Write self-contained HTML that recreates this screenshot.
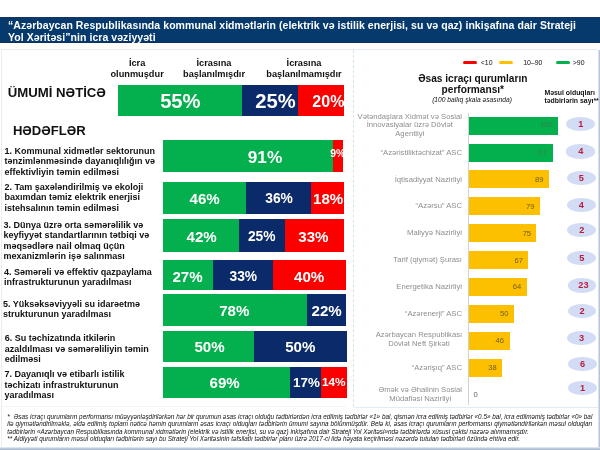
<!DOCTYPE html>
<html lang="az">
<head>
<meta charset="utf-8">
<title>Strateji Yol Xəritəsi</title>
<style>
html,body{margin:0;padding:0;}
body{width:600px;height:450px;position:relative;overflow:hidden;background:#fff;will-change:transform;font-family:"Liberation Sans",sans-serif;color:#111;}
.abs{position:absolute;}
.hdr{left:0;top:16.6px;width:600px;height:26.6px;background:#063a6d;box-shadow:inset 0 1px 0 #16345f,inset 0 -1px 0 #10305f;}
.hdr div{position:absolute;left:8px;color:#fff;font-weight:bold;font-size:10.5px;white-space:nowrap;line-height:12px;letter-spacing:0.063px;}
.panel{border:1px dotted #d6e3f0;box-sizing:border-box;}
.colh{font-weight:bold;font-size:9.23px;line-height:10.3px;text-align:center;white-space:nowrap;color:#111;transform:translateX(-50%);}
.bar{display:flex;overflow:hidden;}
.bar div{height:100%;color:#fff;font-weight:bold;text-align:center;white-space:nowrap;}
.g{background:#04af4d;}
.n{background:#0b2a69;}
.r{background:#fc0000;}
.y{background:#fdc000;}
.lbl{left:5px;font-weight:bold;font-size:9px;line-height:10.7px;white-space:nowrap;color:#111;}
.org{color:#8e8e8e;font-size:7.68px;line-height:9.2px;white-space:nowrap;}
.orgr{right:138px;text-align:right;}
.val{font-size:7.6px;line-height:8px;color:#5a5a3a;white-space:nowrap;text-align:right;}
.el{width:28.7px;height:14.2px;border-radius:50%;background:#d2dcf5;color:#b81d42;font-weight:bold;font-size:9.2px;line-height:15.2px;text-align:center;}
.fn{left:7.3px;font-style:italic;font-size:6.35px;line-height:7.4px;color:#111;white-space:nowrap;}
</style>
</head>
<body>

<!-- header -->
<div class="abs hdr">
  <div id="h1" style="top:2.2px;">“Azərbaycan Respublikasında kommunal xidmətlərin (elektrik və istilik enerjisi, su və qaz) inkişafına dair Strateji</div>
  <div id="h2" style="top:14.2px;">Yol Xəritəsi”nin icra vəziyyəti</div>
</div>

<!-- panels -->
<div class="abs" style="left:0;top:43.5px;width:600px;height:5px;background:#fffefb;"></div>
<div class="abs" style="left:1px;top:48.6px;width:597px;height:1px;background:#e7ebf5;"></div>
<div class="abs" style="left:0.5px;top:49px;width:1px;height:397px;background:#ececec;"></div>
<div class="abs" style="left:353px;top:50px;width:0;height:357px;border-left:1px dashed #d3e3ef;"></div>
<div class="abs" style="left:353.5px;top:407px;width:244px;height:1px;background:#e3ebf4;"></div>
<div class="abs" style="left:2px;top:405.5px;width:344px;height:1px;background:#f1f4f8;"></div>
<div class="abs" style="left:597.8px;top:50px;width:2.2px;height:400px;background:linear-gradient(to right,#e8eef7,#a9b7cc);"></div>
<div class="abs" style="left:0;top:446.6px;width:600px;height:3.4px;background:linear-gradient(to bottom,#edf2f9,#c6d3e7 40%,#aab8cd 75%,#b4c2d8);"></div>

<!-- column headers -->
<div class="abs colh" id="c1" style="left:137.1px;top:58.4px;">İcra<br>olunmuşdur</div>
<div class="abs colh" id="c2" style="left:214px;top:58.4px;">İcrasına<br>başlanılmışdır</div>
<div class="abs colh" id="c3" style="left:304px;top:58.4px;">İcrasına<br>başlanılmamışdır</div>

<!-- total -->
<div class="abs" id="tot" style="left:7.7px;top:85.3px;font-weight:bold;font-size:13.2px;line-height:16px;white-space:nowrap;">ÜMUMİ NƏTİCƏ</div>
<div class="abs bar" style="left:118.3px;top:85.2px;height:31px;line-height:32px;">
  <div class="g" style="width:123.7px;font-size:20.2px;"><span style="position:relative;left:0.2px;">55%</span></div>
  <div class="n" style="width:56px;font-size:20.2px;"><span style="position:relative;left:5.5px;">25%</span></div>
  <div class="r" style="width:46px;font-size:16px;"><span style="position:relative;left:7.4px;top:1.2px;">20%</span></div>
</div>

<div class="abs" id="hed" style="left:12.9px;top:123.4px;font-weight:bold;font-size:13.1px;line-height:16px;white-space:nowrap;">HƏDƏFLƏR</div>

<!-- rows -->
<div class="abs lbl" id="l1" style="left:4.4px;top:145.7px;line-height:10.7px;">1. Kommunal xidmətlər sektorunun<br>tənzimlənməsində dayanıqlılığın və<br>effektivliyin təmin edilməsi</div>
<div class="abs bar" style="left:163.3px;top:140.2px;height:31.5px;line-height:35px;">
  <div class="g" style="width:169.7px;font-size:17.2px;"><span style="position:relative;left:16.85px;">91%</span></div>
  <div class="r" style="width:10px;font-size:8.8px;"><span style="position:relative;left:0px;"></span></div>
</div>
<div class="abs" style="left:330.2px;top:147.8px;width:12.8px;overflow:hidden;color:#fff;font-weight:bold;font-size:10.4px;line-height:12px;white-space:nowrap;">9%</div>

<div class="abs lbl" id="l2" style="left:4.4px;top:181.6px;line-height:10.7px;">2. Tam şaxələndirilmiş və ekoloji<br>baxımdan təmiz elektrik enerjisi<br>istehsalının təmin edilməsi</div>
<div class="abs bar" style="left:163.3px;top:181.7px;height:32.3px;line-height:34.9px;">
  <div class="g" style="width:82.7px;font-size:15.1px;"><span style="position:relative;left:0px;">46%</span></div>
  <div class="n" style="width:65px;font-size:13.8px;"><span style="position:relative;left:0.6px;">36%</span></div>
  <div class="r" style="width:32.7px;font-size:15.1px;"><span style="position:relative;left:0.85px;">18%</span></div>
</div>

<div class="abs lbl" id="l3" style="left:3.6px;top:219.5px;line-height:10.55px;">3. Dünya üzrə orta səmərəlilik və<br>keyfiyyət standartlarının tətbiqi və<br>məqsədlərə nail olmaq üçün<br>mexanizmlərin işə salınması</div>
<div class="abs bar" style="left:163.3px;top:219.3px;height:33px;line-height:36px;">
  <div class="g" style="width:76px;font-size:15.1px;"><span style="position:relative;left:0.3px;">42%</span></div>
  <div class="n" style="width:45.7px;font-size:13.8px;"><span style="position:relative;left:-0.4px;">25%</span></div>
  <div class="r" style="width:59px;font-size:15.1px;"><span style="position:relative;left:-1.1px;">33%</span></div>
</div>

<div class="abs lbl" id="l4" style="left:4.1px;top:266.6px;line-height:10.7px;">4. Səmərəli və effektiv qazpaylama<br>infrastrukturunun yaradılması</div>
<div class="abs bar" style="left:163.3px;top:260px;height:30px;line-height:33.4px;">
  <div class="g" style="width:49.4px;font-size:15.1px;"><span style="position:relative;left:-0.5px;">27%</span></div>
  <div class="n" style="width:60px;font-size:13.8px;"><span style="position:relative;left:0.6px;">33%</span></div>
  <div class="r" style="width:73px;font-size:15.1px;"><span style="position:relative;left:0px;">40%</span></div>
</div>

<div class="abs lbl" id="l5" style="left:3px;top:298.5px;line-height:10.7px;">5. Yüksəksəviyyəli su idarəetmə<br>strukturunun yaradılması</div>
<div class="abs bar" style="left:163.3px;top:294.3px;height:31.4px;line-height:33.4px;">
  <div class="g" style="width:143.4px;font-size:15.1px;"><span style="position:relative;left:-0.7px;">78%</span></div>
  <div class="n" style="width:39.7px;font-size:15.1px;"><span style="position:relative;left:0.1px;">22%</span></div>
</div>

<div class="abs lbl" id="l6" style="left:4.8px;top:332.8px;line-height:10.7px;">6. Su təchizatında itkilərin<br>azaldılması və səmərəliliyin təmin<br>edilməsi</div>
<div class="abs bar" style="left:163.3px;top:330.7px;height:31.6px;line-height:32px;">
  <div class="g" style="width:91px;font-size:15.1px;"><span style="position:relative;left:0.7px;">50%</span></div>
  <div class="n" style="width:92.4px;font-size:15.1px;"><span style="position:relative;left:-0.25px;">50%</span></div>
</div>

<div class="abs lbl" id="l7" style="left:4.4px;top:369.2px;line-height:10.6px;">7. Dayanıqlı və etibarlı istilik<br>təchizatı infrastrukturunun<br>yaradılması</div>
<div class="abs bar" style="left:163.3px;top:366.7px;height:31.6px;line-height:31.6px;">
  <div class="g" style="width:126.7px;font-size:15.1px;"><span style="position:relative;left:-2px;">69%</span></div>
  <div class="n" style="width:30.7px;font-size:13.4px;"><span style="position:relative;left:1.1px;">17%</span></div>
  <div class="r" style="width:26.3px;font-size:11.8px;"><span style="position:relative;left:-0.1px;">14%</span></div>
</div>

<!-- right panel -->
<div class="abs" style="left:462.7px;top:61.1px;width:14px;height:2.8px;background:#fc0000;border-radius:1.5px;"></div>
<div class="abs" style="left:499.3px;top:61.1px;width:14px;height:2.8px;background:#fdc000;border-radius:1.5px;"></div>
<div class="abs" style="left:556px;top:61.1px;width:14px;height:2.8px;background:#04af4d;border-radius:1.5px;"></div>
<div class="abs" id="lg1" style="left:480.8px;top:59.2px;font-size:6.9px;line-height:8px;white-space:nowrap;">&lt;10</div>
<div class="abs" id="lg2" style="left:523.2px;top:59.2px;font-size:6.9px;line-height:8px;white-space:nowrap;">10–90</div>
<div class="abs" id="lg3" style="left:572.8px;top:59.2px;font-size:6.9px;line-height:8px;white-space:nowrap;">&gt;90</div>

<div class="abs" id="rt" style="left:472.8px;top:72.7px;transform:translateX(-50%);font-weight:bold;font-size:10.15px;line-height:11.3px;text-align:center;white-space:nowrap;">Əsas icraçı qurumların<br>performansı*</div>
<div class="abs" id="rs" style="left:472px;top:95.8px;transform:translateX(-50%);font-style:italic;font-size:6.68px;line-height:8px;white-space:nowrap;">(100 ballıq şkala əsasında)</div>
<div class="abs" id="rm" style="left:544.4px;top:89.3px;font-weight:bold;font-size:6.9px;line-height:7.9px;white-space:nowrap;">Məsul olduqları<br>tədbirlərin sayı**</div>

<!-- axis -->
<div class="abs" style="left:468px;top:113px;width:1px;height:292px;background:#d2d2d2;"></div>

<!-- org bars -->
<div class="abs g" style="left:468.9px;top:116.7px;width:89.3px;height:18.2px;"></div>
<div class="abs g" style="left:468.9px;top:143.5px;width:84px;height:18.2px;"></div>
<div class="abs y" style="left:468.9px;top:170.2px;width:79.8px;height:18.2px;"></div>
<div class="abs y" style="left:468.9px;top:197.2px;width:71.1px;height:18.1px;"></div>
<div class="abs y" style="left:468.9px;top:224.3px;width:67.5px;height:18.2px;"></div>
<div class="abs y" style="left:468.9px;top:251.2px;width:59.5px;height:18px;"></div>
<div class="abs y" style="left:468.9px;top:278.2px;width:58px;height:17.7px;"></div>
<div class="abs y" style="left:468.9px;top:304.5px;width:44.8px;height:18px;"></div>
<div class="abs y" style="left:468.9px;top:331.5px;width:41.3px;height:18px;"></div>
<div class="abs y" style="left:468.9px;top:358.8px;width:33.1px;height:18px;"></div>

<!-- values -->
<div class="abs val" style="left:522.8px;width:30px;top:121.4px;color:#37824f;">100</div>
<div class="abs val" style="left:516.4px;width:30px;top:148.5px;color:#37824f;">97</div>
<div class="abs val" style="left:513.4px;width:30px;top:175.8px;color:#6e5c1c;">89</div>
<div class="abs val" style="left:504.5px;width:30px;top:202.6px;color:#6e5c1c;">79</div>
<div class="abs val" style="left:501.1px;width:30px;top:229.5px;color:#6e5c1c;">75</div>
<div class="abs val" style="left:493px;width:30px;top:256.9px;color:#6e5c1c;">67</div>
<div class="abs val" style="left:491.3px;width:30px;top:283.3px;color:#6e5c1c;">64</div>
<div class="abs val" style="left:478.4px;width:30px;top:310px;color:#6e5c1c;">50</div>
<div class="abs val" style="left:474px;width:30px;top:336.7px;color:#6e5c1c;">46</div>
<div class="abs val" style="left:466.7px;width:30px;top:363.9px;color:#6e5c1c;">38</div>
<div class="abs val" style="left:473.5px;top:390.7px;text-align:left;color:#5a5a5a;">0</div>

<!-- org labels -->
<div class="abs org" id="o1" style="right:138px;top:112.6px;line-height:8.7px;text-align:center;">Vətəndaşlara Xidmət və Sosial<br>İnnovasiyalar üzrə Dövlət<br>Agentliyi</div>
<div class="abs org" id="o2" style="right:138px;top:147.5px;text-align:center;">“Azəristiliktəchizat” ASC</div>
<div class="abs org" id="o3" style="right:138px;top:174.6px;text-align:center;">İqtisadiyyat Nazirliyi</div>
<div class="abs org" id="o4" style="right:138px;top:201.4px;text-align:center;">“Azərsu” ASC</div>
<div class="abs org" id="o5" style="right:138px;top:228.4px;text-align:center;">Maliyyə Nazirliyi</div>
<div class="abs org" id="o6" style="right:138px;top:255.3px;text-align:center;">Tarif (qiymət) Şurası</div>
<div class="abs org" id="o7" style="right:138px;top:282.2px;text-align:center;">Energetika Nazirliyi</div>
<div class="abs org" id="o8" style="right:138px;top:308.7px;text-align:center;">“Azərenerji” ASC</div>
<div class="abs org" id="o9" style="right:137.8px;top:331.2px;line-height:8.9px;text-align:center;">Azərbaycan Respublikası<br>Dövlət Neft Şirkəti</div>
<div class="abs org" id="o10" style="right:138px;top:362.6px;text-align:center;">“Azərişıq” ASC</div>
<div class="abs org" id="o11" style="right:138px;top:385.2px;text-align:center;">Əmək və Əhalinin Sosial<br>Müdafiəsi Nazirliyi</div>

<!-- ellipses -->
<div class="abs el" style="left:566.35px;top:116.6px;">1</div>
<div class="abs el" style="left:566.35px;top:144.4px;">4</div>
<div class="abs el" style="left:566.95px;top:170.6px;">5</div>
<div class="abs el" style="left:566.95px;top:197.9px;">4</div>
<div class="abs el" style="left:567.35px;top:222.9px;">2</div>
<div class="abs el" style="left:567.35px;top:250.9px;">5</div>
<div class="abs el" style="left:567.65px;top:278.4px;text-indent:3px;">23</div>
<div class="abs el" style="left:567.65px;top:303.9px;">2</div>
<div class="abs el" style="left:567.25px;top:331.2px;">3</div>
<div class="abs el" style="left:568.15px;top:357.2px;">6</div>
<div class="abs el" style="left:568.15px;top:381px;">1</div>

<!-- footnotes -->
<div class="abs fn" id="f1" style="top:412.8px;width:585px;text-align:justify;text-align-last:justify;white-space:normal;">*&nbsp;&nbsp;Əsas icraçı qurumların performansı müəyyənləşdirilərkən hər bir qurumun əsas icraçı olduğu tədbirlərdən icra edilmiş tədbirlər «1» bal, qismən icra edilmiş tədbirlər «0.5» bal, icra edilməmiş tədbirlər «0» bal</div>
<div class="abs fn" id="f2" style="top:420.15px;width:585px;text-align:justify;text-align-last:justify;white-space:normal;">ilə qiymətləndirilməklə, əldə edilmiş toplam nəticə həmin qurumların əsas icraçı olduqları tədbirlərin ümumi sayına bölünmüşdür. Belə ki, əsas icraçı qurumların performansı qiymətləndirilərkən məsul olduqları</div>
<div class="abs fn" id="f3" style="top:427.5px;">tədbirlərin «Azərbaycan Respublikasında kommunal xidmətlərin (elektrik və istilik enerjisi, su və qaz) inkişafına dair Strateji Yol Xəritəsi»ndə tədbirlərdə xüsusi çəkisi nəzərə alınmamışdır.</div>
<div class="abs fn" id="f4" style="top:434.85px;">** Aidiyyəti qurumların məsul olduqları tədbirlərin sayı bu Strateji Yol Xəritəsinin təfsilatlı tədbirlər planı üzrə 2017-ci ildə həyata keçirilməsi nəzərdə tutulan tədbirləri özündə ehtiva edir.</div>

</body>
</html>
